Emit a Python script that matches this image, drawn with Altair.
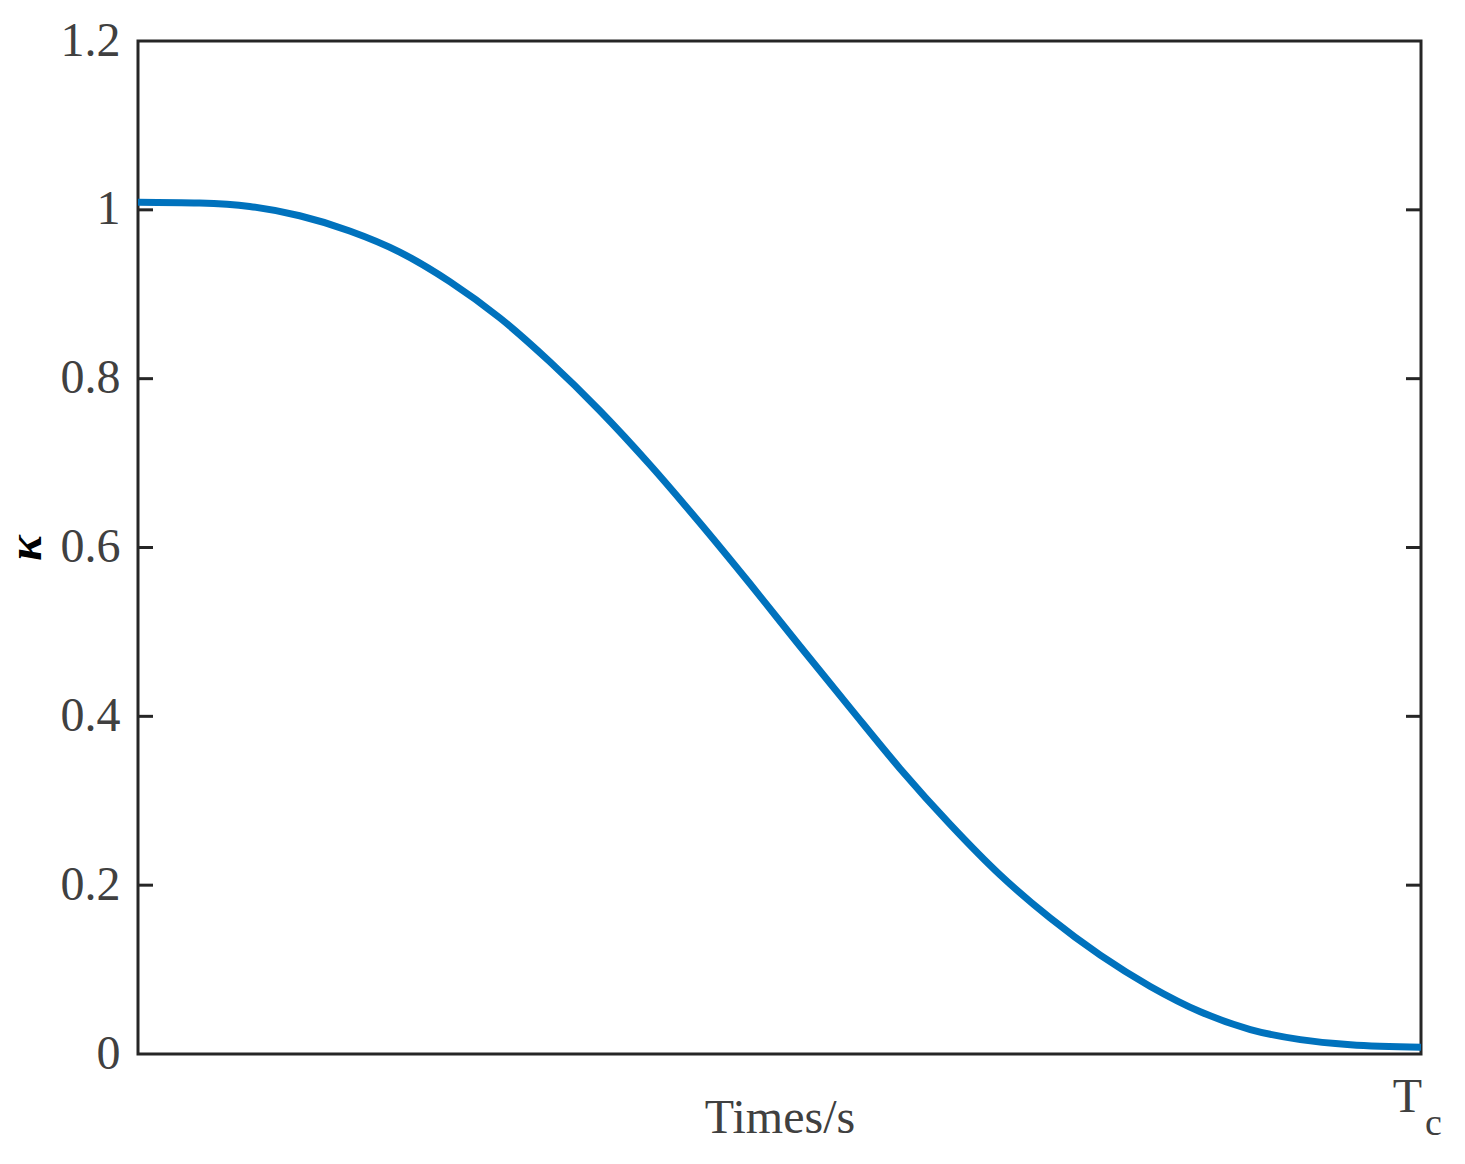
import altair as alt
import pandas as pd

# time as a fraction of Tc
times = [0.0, 0.048, 0.087, 0.126, 0.165, 0.204, 0.243, 0.282, 0.321, 0.360,
         0.399, 0.438, 0.477, 0.516, 0.555, 0.594, 0.633, 0.672, 0.711, 0.750,
         0.789, 0.828, 0.867, 0.906, 0.945, 1.0]
kappa = [1.009, 1.008, 1.004, 0.993, 0.975, 0.950, 0.915, 0.872, 0.820, 0.762,
         0.698, 0.629, 0.557, 0.483, 0.410, 0.338, 0.272, 0.212, 0.161, 0.117,
         0.080, 0.050, 0.029, 0.017, 0.011, 0.008]
y_ticks = [0, 0.2, 0.4, 0.6, 0.8, 1.0, 1.2]
inner_ticks = [0.2, 0.4, 0.6, 0.8, 1.0]
x_end_label = ["T"]
x_end_sub = ["c"]
x_end = [1.0]

W, H = 1283, 1013
FONT = "Liberation Serif"
TXT = "#404040"
FRAME = "#262626"
BLUE = "#0072BD"

df = pd.DataFrame({"t": times, "k": kappa})
tick_df = pd.DataFrame({"v": inner_ticks})
end_df = pd.DataFrame({"t": x_end, "T": x_end_label, "c": x_end_sub})

xscale = alt.Scale(domain=[0, 1], nice=False, zero=False)
yscale = alt.Scale(domain=[0, 1.2], nice=False)

line = alt.Chart(df).mark_line(color=BLUE, strokeWidth=7, interpolate="monotone").encode(
    x=alt.X("t:Q", scale=xscale,
            axis=alt.Axis(labels=False, ticks=False, domain=False, grid=False,
                          title="Times/s", titleFont=FONT, titleFontSize=48,
                          titleFontWeight="normal", titleColor=TXT, titlePadding=40)),
    y=alt.Y("k:Q", scale=yscale,
            axis=alt.Axis(values=y_ticks, format="~g", ticks=False, domain=False, grid=False,
                          labelFont=FONT, labelFontSize=48, labelColor=TXT, labelPadding=18,
                          title="κ", titleFont=FONT, titleFontSize=48, titleFontStyle="italic",
                          titleFontWeight="bold", titleColor="#000000", titlePadding=10)),
)

left_ticks = alt.Chart(tick_df).mark_rule(color=FRAME, strokeWidth=3).encode(
    y=alt.Y("v:Q", scale=yscale), x=alt.value(15), x2=alt.value(0.5)
)
right_ticks = alt.Chart(tick_df).mark_rule(color=FRAME, strokeWidth=3).encode(
    y=alt.Y("v:Q", scale=yscale), x=alt.value(W - 15), x2=alt.value(W)
)

t_label = alt.Chart(end_df).mark_text(
    font=FONT, fontSize=48, color=TXT, align="right", baseline="alphabetic", dx=1
).encode(x=alt.X("t:Q", scale=xscale), y=alt.value(1071), text="T:N")
c_label = alt.Chart(end_df).mark_text(
    font=FONT, fontSize=38, color=TXT, align="left", baseline="alphabetic", dx=4
).encode(x=alt.X("t:Q", scale=xscale), y=alt.value(1094), text="c:N")

chart = alt.layer(line, left_ticks, right_ticks, t_label, c_label).properties(
    width=W, height=H,
    background="white",
    autosize=alt.AutoSizeParams(type="none"),
    padding={"left": 130, "top": 33, "right": 30, "bottom": 95},
).configure_view(stroke=FRAME, strokeWidth=3)

chart.save("out.html", embed_options={"renderer": "svg", "actions": False})
